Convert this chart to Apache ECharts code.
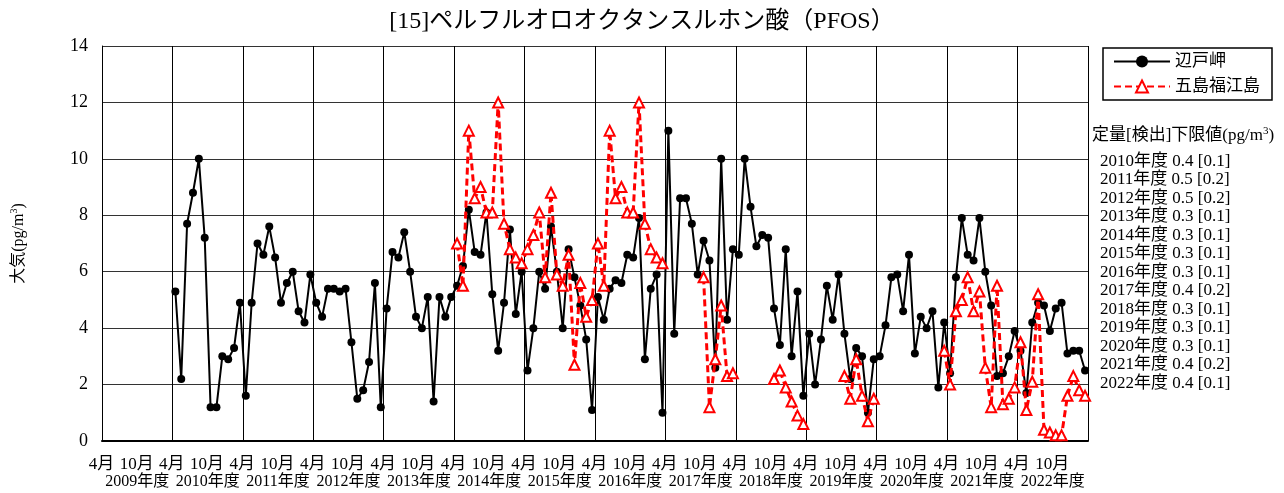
<!DOCTYPE html>
<html>
<head>
<meta charset="utf-8">
<script src="https://cdn.jsdelivr.net/npm/echarts@6/dist/echarts.min.js"></script>
<style>
  html, body { margin: 0; padding: 0; background: #fff; }
  #chart { width: 1284px; height: 493px; }
</style>
</head>
<body>
<div id="chart"></div>
<script>
// Fiscal years on the time axis (each runs April - March)
const fiscalYears = [2009, 2010, 2011, 2012, 2013, 2014, 2015, 2016, 2017, 2018, 2019, 2020, 2021, 2022];
const monthNames = ['4月', '5月', '6月', '7月', '8月', '9月', '10月', '11月', '12月', '1月', '2月', '3月'];

// 辺戸岬: monthly values, April 2010 - March 2023 (pg/m3)
const heddoValues = [
  5.3, 2.2, 7.7, 8.8, 10.0, 7.2, 1.2, 1.2, 3.0, 2.9, 3.3, 4.9,   // FY2010
  1.6, 4.9, 7.0, 6.6, 7.6, 6.5, 4.9, 5.6, 6.0, 4.6, 4.2, 5.9,    // FY2011
  4.9, 4.4, 5.4, 5.4, 5.3, 5.4, 3.5, 1.5, 1.8, 2.8, 5.6, 1.2,    // FY2012
  4.7, 6.7, 6.5, 7.4, 6.0, 4.4, 4.0, 5.1, 1.4, 5.1, 4.4, 5.1,    // FY2013
  5.5, 6.2, 8.2, 6.7, 6.6, 8.1, 5.2, 3.2, 4.9, 7.5, 4.5, 6.0,    // FY2014
  2.5, 4.0, 6.0, 5.4, 7.6, 6.0, 4.0, 6.8, 5.8, 4.8, 3.6, 1.1,    // FY2015
  5.1, 4.3, 5.4, 5.7, 5.6, 6.6, 6.5, 7.9, 2.9, 5.4, 5.9, 1.0,    // FY2016
  11.0, 3.8, 8.6, 8.6, 7.7, 5.9, 7.1, 6.4, 2.6, 10.0, 4.3, 6.8,  // FY2017
  6.6, 10.0, 8.3, 6.9, 7.3, 7.2, 4.7, 3.4, 6.8, 3.0, 5.3, 1.6,   // FY2018
  3.8, 2.0, 3.6, 5.5, 4.3, 5.9, 3.8, 2.2, 3.3, 3.0, 1.0, 2.9,    // FY2019
  3.0, 4.1, 5.8, 5.9, 4.6, 6.6, 3.1, 4.4, 4.0, 4.6, 1.9, 4.2,    // FY2020
  2.4, 5.8, 7.9, 6.6, 6.4, 7.9, 6.0, 4.8, 2.3, 2.4, 3.0, 3.9,    // FY2021
  3.2, 1.7, 4.2, 4.9, 4.8, 3.9, 4.7, 4.9, 3.1, 3.2, 3.2, 2.5     // FY2022
];

// 五島福江島: monthly values, April 2014 - March 2023 (null = not measured)
const gotoValues = [
  7.0, 5.5, 11.0, 8.6, 9.0, 8.1, 8.1, 12.0, 7.7, 6.8, 6.5, 6.3,  // FY2014
  6.8, 7.3, 8.1, 5.8, 8.8, 5.9, 5.5, 6.6, 2.7, 5.6, 4.4, 5.0,    // FY2015
  7.0, 5.5, 11.0, 8.6, 9.0, 8.1, 8.1, 12.0, 7.7, 6.8, 6.5, 6.3,  // FY2016
  null, null, null, null, null, null, 5.8, 1.2, 2.9, 4.8, 2.3, 2.4,  // FY2017
  null, null, null, null, null, null, 2.2, 2.5, 1.9, 1.4, 0.9, 0.6,  // FY2018
  null, null, null, null, null, null, 2.3, 1.5, 2.9, 1.6, 0.7, 1.5,  // FY2019
  null, null, null, null, null, null, null, null, null, null, null, 3.2,  // FY2020
  2.0, 4.6, 5.0, 5.8, 4.6, 5.3, 2.6, 1.2, 5.5, 1.3, 1.5, 1.9,    // FY2021
  3.5, 1.1, 2.1, 5.2, 0.4, 0.3, 0.2, 0.2, 1.6, 2.3, 1.8, 1.6     // FY2022
];

// Quantification [detection] limits per fiscal year
const limitYears = [2010, 2011, 2012, 2013, 2014, 2015, 2016, 2017, 2018, 2019, 2020, 2021, 2022];
const quantLimits = [0.4, 0.5, 0.5, 0.3, 0.3, 0.3, 0.3, 0.4, 0.3, 0.3, 0.3, 0.4, 0.4];
const detectLimits = [0.1, 0.2, 0.2, 0.1, 0.1, 0.1, 0.1, 0.2, 0.1, 0.1, 0.1, 0.2, 0.1];

const yTicks = { min: 0, max: 14, step: 2 };

const FONT = '"Liberation Serif", "Noto Sans CJK JP", serif';

// one category per month, April 2009 - March 2023
const monthCategories = [];
fiscalYears.forEach(fy => monthNames.forEach(m => monthCategories.push(fy + '年度|' + m)));

const heddoSeries = new Array(12).fill(null).concat(heddoValues);
const gotoSeries = new Array(60).fill(null).concat(gotoValues);

const supRich = (size) => ({
  n: { fontSize: size, fontFamily: FONT, color: '#000' },
  s: { fontSize: Math.round(size * 0.62), fontFamily: FONT, color: '#000', padding: [0, 0, Math.round(size * 0.55), 0] }
});

const limitTexts = limitYears.map((fy, i) => ({
  type: 'text',
  left: 1100,
  top: 153 + i * 18.5,
  style: {
    text: fy + '年度 ' + quantLimits[i].toFixed(1) + ' [' + detectLimits[i].toFixed(1) + ']',
    fontSize: 17,
    fontFamily: FONT,
    fill: '#000'
  }
}));

const chart = echarts.init(document.getElementById('chart'), null, { renderer: 'canvas' });

chart.setOption({
  backgroundColor: '#fff',
  animation: false,
  title: {
    text: '[15]ペルフルオロオクタンスルホン酸（PFOS）',
    left: 'center',
    top: 5,
    textStyle: { fontSize: 24, fontWeight: 'normal', fontFamily: FONT, color: '#000' }
  },
  legend: {
    data: ['辺戸岬', '五島福江島'],
    orient: 'vertical',
    left: 1103,
    top: 48,
    padding: [5, 12, 5, 10],
    itemGap: 8,
    itemWidth: 56,
    itemHeight: 15,
    borderColor: '#000',
    borderWidth: 1.5,
    backgroundColor: '#fff',
    textStyle: { fontSize: 17, fontFamily: FONT, color: '#000' }
  },
  grid: { left: 102, right: 196, top: 46, bottom: 52, containLabel: false },
  xAxis: [
    {
      type: 'category',
      data: monthCategories,
      boundaryGap: true,
      axisLine: { show: true, lineStyle: { color: '#000', width: 2 } },
      axisTick: { show: false },
      axisLabel: {
        interval: (index) => index % 6 === 0,
        formatter: (value) => value.split('|')[1],
        margin: 15,
        fontSize: 17,
        fontFamily: FONT,
        color: '#000',
        padding: [0, 7, 0, 0]
      },
      splitLine: {
        show: true,
        interval: (index) => index % 12 === 0,
        lineStyle: { color: '#000', width: 1 }
      }
    },
    {
      type: 'category',
      gridIndex: 0,
      position: 'bottom',
      data: fiscalYears.map(fy => fy + '年度'),
      boundaryGap: true,
      axisLine: { show: false },
      axisTick: { show: false },
      splitLine: { show: false },
      axisLabel: { interval: 0, margin: 33, fontSize: 16, fontFamily: FONT, color: '#000' }
    }
  ],
  yAxis: {
    type: 'value',
    min: yTicks.min,
    max: yTicks.max,
    interval: yTicks.step,
    name: '{n|大気(pg/m}{s|3}{n|)}',
    nameLocation: 'middle',
    nameGap: 74,
    nameRotate: 90,
    nameTextStyle: { rich: supRich(16) },
    axisLine: { show: true, lineStyle: { color: '#000', width: 1 } },
    axisTick: { show: false },
    axisLabel: { fontSize: 18, fontFamily: FONT, color: '#000', margin: 14 },
    splitLine: { show: true, lineStyle: { color: '#333', width: 1 } }
  },
  series: [
    {
      name: '辺戸岬',
      type: 'line',
      xAxisIndex: 0,
      data: heddoSeries,
      symbol: 'circle',
      symbolSize: 8,
      showAllSymbol: true,
      itemStyle: { color: '#000' },
      lineStyle: { color: '#000', width: 2 },
      z: 3
    },
    {
      name: '五島福江島',
      type: 'line',
      xAxisIndex: 0,
      data: gotoSeries,
      symbol: 'triangle',
      symbolSize: [10, 10],
      showAllSymbol: true,
      connectNulls: false,
      itemStyle: { color: '#fff', borderColor: '#ff0000', borderWidth: 2 },
      lineStyle: { color: '#ff0000', width: 3, type: [7, 4] },
      z: 4
    }
  ],
  graphic: [
    {
      type: 'text',
      left: 1092,
      top: 126,
      style: {
        text: '{n|定量[検出]下限値(pg/m}{s|3}{n|)}',
        rich: supRich(17)
      }
    }
  ].concat(limitTexts)
});
</script>
</body>
</html>
